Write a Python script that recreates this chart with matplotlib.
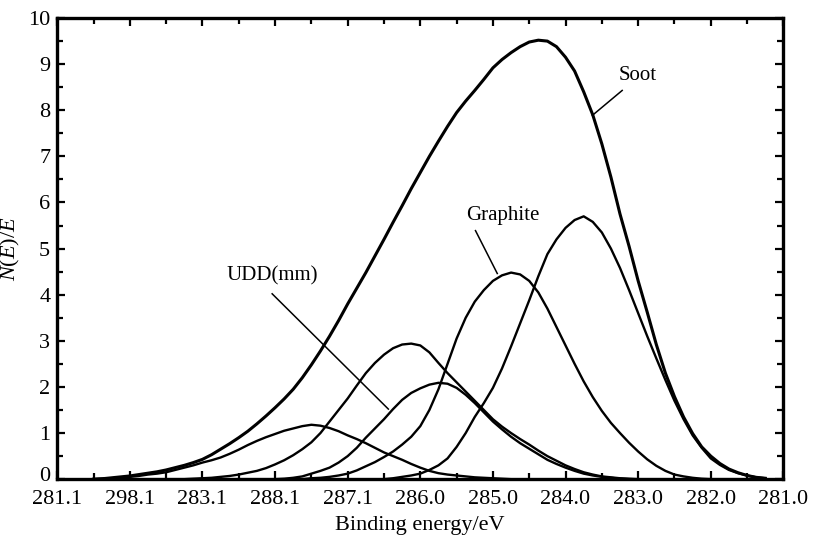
#!/usr/bin/env python3
import matplotlib

matplotlib.use("Agg")
import matplotlib.pyplot as plt
import matplotlib.transforms as mtransforms
import numpy as np

# tick labels as printed on the original axis (evenly spaced)
x_tick_labels = ["281.1", "298.1", "283.1", "288.1", "287.1", "286.0",
                 "285.0", "284.0", "283.0", "282.0", "281.0"]

# sample positions along the axis (tick index units), 0.5 .. 9.75 step 0.125
x_pos = np.arange(0.5, 9.76, 0.125)

# values, one row per axis unit (8 samples each)
soot = [0.0, 0.01, 0.03, 0.05, 0.07, 0.1, 0.13, 0.16,
        0.2, 0.25, 0.3, 0.36, 0.43, 0.53, 0.65, 0.77,
        0.9, 1.04, 1.2, 1.37, 1.55, 1.74, 1.95, 2.2,
        2.48, 2.78, 3.1, 3.44, 3.8, 4.14, 4.48, 4.84,
        5.2, 5.57, 5.93, 6.3, 6.65, 7.0, 7.33, 7.65,
        7.95, 8.2, 8.43, 8.67, 8.92, 9.1, 9.25, 9.38,
        9.48, 9.52, 9.5, 9.38, 9.15, 8.85, 8.4, 7.9,
        7.27, 6.55, 5.75, 5.05, 4.3, 3.62, 2.92, 2.3,
        1.79, 1.35, 0.99, 0.7, 0.5, 0.34, 0.22, 0.14,
        0.08, 0.04, 0.02]

c1 = [0.0, 0.01, 0.02, 0.03, 0.05, 0.07, 0.1, 0.12,
      0.15, 0.2, 0.25, 0.3, 0.36, 0.41, 0.47, 0.55,
      0.64, 0.74, 0.83, 0.91, 0.98, 1.05, 1.1, 1.15,
      1.18, 1.16, 1.11, 1.04, 0.95, 0.87, 0.78, 0.68,
      0.58, 0.5, 0.42, 0.33, 0.25, 0.18, 0.13, 0.1,
      0.08, 0.06, 0.04, 0.03, 0.02, 0.01, 0.0, 0.0,
      0.0, 0.0, 0.0, 0.0, 0.0, 0.0, 0.0, 0.0,
      0.0, 0.0, 0.0, 0.0, 0.0, 0.0, 0.0, 0.0,
      0.0, 0.0, 0.0, 0.0, 0.0, 0.0, 0.0, 0.0,
      0.0, 0.0, 0.0]

c2 = [0.0, 0.0, 0.0, 0.0, 0.0, 0.0, 0.0, 0.0,
      0.0, 0.0, 0.0, 0.01, 0.02, 0.03, 0.05, 0.07,
      0.1, 0.14, 0.18, 0.24, 0.32, 0.41, 0.52, 0.65,
      0.8, 1.0, 1.25, 1.5, 1.75, 2.03, 2.3, 2.52,
      2.7, 2.84, 2.92, 2.94, 2.9, 2.75, 2.52, 2.3,
      2.1, 1.9, 1.7, 1.5, 1.3, 1.14, 1.0, 0.87,
      0.75, 0.62, 0.5, 0.4, 0.3, 0.22, 0.15, 0.1,
      0.06, 0.04, 0.02, 0.01, 0.0, 0.0, 0.0, 0.0,
      0.0, 0.0, 0.0, 0.0, 0.0, 0.0, 0.0, 0.0,
      0.0, 0.0, 0.0]

c3 = [0.0, 0.0, 0.0, 0.0, 0.0, 0.0, 0.0, 0.0,
      0.0, 0.0, 0.0, 0.0, 0.0, 0.0, 0.0, 0.0,
      0.0, 0.0, 0.0, 0.0, 0.0, 0.01, 0.03, 0.06,
      0.12, 0.18, 0.25, 0.36, 0.5, 0.68, 0.9, 1.1,
      1.3, 1.52, 1.72, 1.87, 1.97, 2.05, 2.09, 2.07,
      1.98, 1.83, 1.65, 1.45, 1.25, 1.08, 0.92, 0.78,
      0.66, 0.54, 0.42, 0.33, 0.25, 0.18, 0.12, 0.08,
      0.05, 0.03, 0.01, 0.0, 0.0, 0.0, 0.0, 0.0,
      0.0, 0.0, 0.0, 0.0, 0.0, 0.0, 0.0, 0.0,
      0.0, 0.0, 0.0]

graphite = [0.0, 0.0, 0.0, 0.0, 0.0, 0.0, 0.0, 0.0,
            0.0, 0.0, 0.0, 0.0, 0.0, 0.0, 0.0, 0.0,
            0.0, 0.0, 0.0, 0.0, 0.0, 0.0, 0.0, 0.0,
            0.02, 0.03, 0.05, 0.08, 0.12, 0.19, 0.28, 0.37,
            0.48, 0.6, 0.75, 0.92, 1.15, 1.5, 1.95, 2.5,
            3.05, 3.5, 3.85, 4.1, 4.3, 4.42, 4.48, 4.44,
            4.3, 4.05, 3.7, 3.3, 2.9, 2.5, 2.12, 1.78,
            1.48, 1.22, 1.0, 0.79, 0.6, 0.43, 0.29, 0.18,
            0.1, 0.06, 0.03, 0.01, 0.0, 0.0, 0.0, 0.0,
            0.0, 0.0, 0.0]

c5 = [0.0, 0.0, 0.0, 0.0, 0.0, 0.0, 0.0, 0.0,
      0.0, 0.0, 0.0, 0.0, 0.0, 0.0, 0.0, 0.0,
      0.0, 0.0, 0.0, 0.0, 0.0, 0.0, 0.0, 0.0,
      0.0, 0.0, 0.0, 0.0, 0.0, 0.0, 0.0, 0.0,
      0.0, 0.02, 0.05, 0.08, 0.12, 0.2, 0.3, 0.45,
      0.7, 1.0, 1.35, 1.65, 1.98, 2.4, 2.88, 3.38,
      3.88, 4.4, 4.88, 5.2, 5.45, 5.62, 5.7, 5.58,
      5.35, 5.0, 4.58, 4.1, 3.6, 3.1, 2.62, 2.15,
      1.7, 1.3, 0.95, 0.68, 0.45, 0.31, 0.2, 0.13,
      0.08, 0.04, 0.02]


def setup_fonts() -> None:
    plt.rcParams["font.family"] = ["Liberation Serif", "DejaVu Serif"]
    plt.rcParams["mathtext.fontset"] = "custom"
    plt.rcParams["mathtext.rm"] = "Liberation Serif"
    plt.rcParams["mathtext.it"] = "Liberation Serif:italic"


def plot_spectrum(path: str) -> None:
    fig = plt.figure(figsize=(8.29, 5.47), dpi=100)
    ax = fig.add_axes([0.069, 0.124, 0.876, 0.843])

    ax.plot(x_pos, soot, color="black", lw=2.2)
    for series in (c1, c2, c3, graphite, c5):
        ax.plot(x_pos, series, color="black", lw=1.7)

    ax.set_xlim(0, 10)
    ax.set_ylim(0, 10)
    ax.set_xticks(range(len(x_tick_labels)))
    ax.set_xticklabels(x_tick_labels)
    ax.set_xticks(np.arange(0.5, 10, 1.0), minor=True)
    ax.set_yticks(range(0, 11))
    ax.set_yticks(np.arange(0.5, 10, 1.0), minor=True)

    ax.tick_params(which="both", direction="in", top=True, right=True,
                   labelsize=16, width=1.6)
    ax.tick_params(which="major", length=6)
    ax.tick_params(which="minor", length=4)
    ax.tick_params(axis="x", pad=8)
    ax.tick_params(axis="y", pad=5)
    for spine in ax.spines.values():
        spine.set_linewidth(2.4)

    # nudge the "0" label up a little so it clears the first x label
    zero_label = ax.get_yticklabels()[0]
    zero_label.set_transform(zero_label.get_transform() +
                             mtransforms.ScaledTranslation(0, 4 / 72, fig.dpi_scale_trans))

    ax.set_xlabel("Binding energy/eV", fontsize=16, labelpad=5)
    ax.set_ylabel(r"$N(E)/E$", fontsize=16, labelpad=4)

    # labels with leader lines
    ax.text(7.99, 8.76, "Soot", fontsize=15, ha="center", va="center")
    ax.plot([7.78, 7.37], [8.43, 7.89], color="black", lw=1.1)
    ax.text(6.14, 5.72, "Graphite", fontsize=15, ha="center", va="center")
    ax.plot([5.76, 6.06], [5.39, 4.46], color="black", lw=1.1)
    ax.text(2.96, 4.41, "UDD(mm)", fontsize=15, ha="center", va="center")
    ax.plot([2.96, 4.56], [4.02, 1.52], color="black", lw=1.1)

    fig.savefig(path, dpi=100)
    plt.close(fig)


def main() -> None:
    setup_fonts()
    plot_spectrum("out.png")


if __name__ == "__main__":
    main()
